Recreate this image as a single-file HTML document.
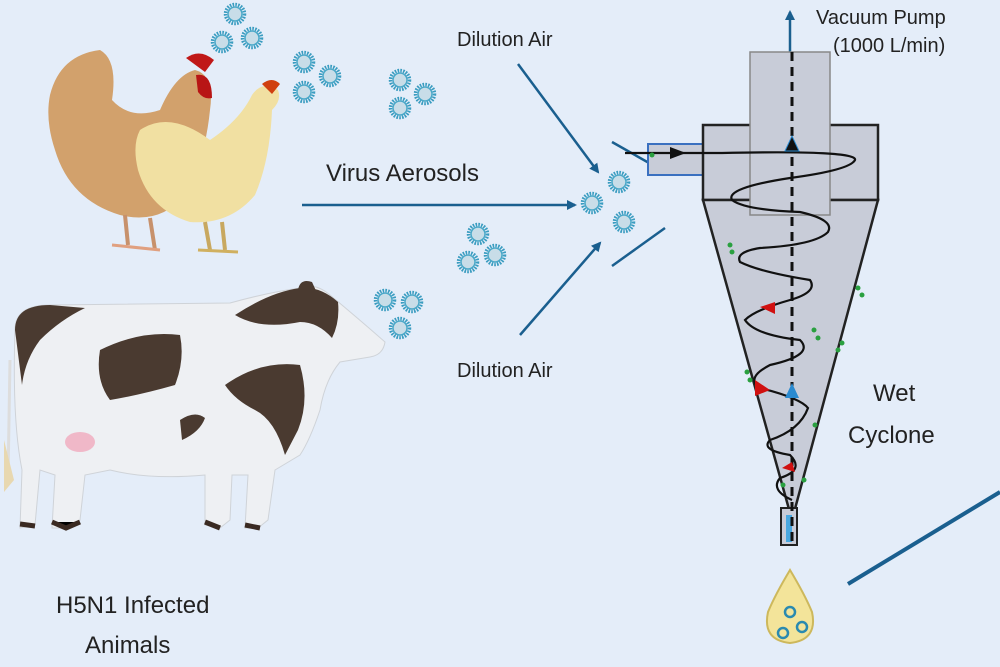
<!DOCTYPE html>
<html><head><style>
html,body{margin:0;padding:0;background:#e4edf9;}
svg{display:block;}
text{font-family:"Liberation Sans",sans-serif;fill:#222;}
</style></head><body>
<svg width="1000" height="667" viewBox="0 0 1000 667" xmlns="http://www.w3.org/2000/svg">
<defs>
<symbol id="v" viewBox="-12 -12 24 24" overflow="visible">
<circle r="9.5" fill="none" stroke="#3a9cc0" stroke-width="3.5" stroke-dasharray="1.6 1.2"/>
<circle r="7" fill="#c8dde8" stroke="#4aa8c8" stroke-width="1.5"/>
</symbol>
<marker id="ab" markerWidth="10" markerHeight="10" refX="8" refY="5" orient="auto" markerUnits="userSpaceOnUse"><path d="M0,0 L10,5 L0,10 Z" fill="#1a5f8f"/></marker>
</defs>
<rect width="1000" height="667" fill="#e4edf9"/>

<!-- chickens -->
<g>
<path d="M50,95 Q60,55 100,50 Q118,60 112,100 Q130,120 160,110 Q175,75 195,70 Q215,75 210,110 Q205,160 185,195 Q160,225 120,215 Q70,200 55,150 Q45,120 50,95Z" fill="#d2a16c"/>
<path d="M125,215 L128,245 M150,218 L155,250" stroke="#c7916c" stroke-width="4"/>
<path d="M112,245 L160,250" stroke="#e0a080" stroke-width="3"/>
<path d="M186,58 Q200,48 214,60 L205,72 Z" fill="#c01818"/>
<path d="M196,75 Q212,72 212,98 Q204,100 198,92Z" fill="#b81515"/>
<path d="M140,130 Q170,110 210,140 Q240,120 252,95 Q262,80 278,90 Q282,100 272,110 Q270,160 255,195 Q230,225 190,222 Q150,210 138,170 Q132,145 140,130Z" fill="#f1e0a2"/>
<path d="M262,84 Q272,76 280,84 L272,94Z" fill="#d04010"/>
<path d="M205,222 L210,250 M222,222 L225,250" stroke="#c8a860" stroke-width="4"/>
<path d="M198,250 L238,252" stroke="#d0b060" stroke-width="3"/>
</g>

<!-- cow -->
<g>
<path d="M15,330 Q15,305 50,305 L230,303 Q270,292 300,288 Q315,282 330,295 Q360,320 385,342 Q383,355 370,357 L340,362 Q325,380 320,410 Q310,440 300,455 L275,470 L268,520 L258,528 L245,528 L248,475 L232,475 L230,520 L220,528 L205,525 L205,475 Q150,480 110,470 L85,475 L80,520 L65,528 L52,528 L55,475 L40,470 L35,525 L20,528 L22,470 Q12,420 15,330Z" fill="#eef0f3" stroke="#cfd3d8" stroke-width="1"/>
<path d="M15,330 Q15,305 50,305 L85,308 Q60,320 40,340 Q25,360 22,385Z" fill="#4a3a30"/>
<path d="M235,315 Q270,292 300,288 Q320,286 338,302 Q340,322 332,338 Q318,322 300,322 Q260,330 235,315Z" fill="#4a3a30"/>
<path d="M100,350 Q140,330 180,335 Q185,360 175,385 Q140,395 110,400 Q95,380 100,350Z" fill="#4a3a30"/>
<path d="M225,385 Q260,360 300,365 Q310,400 298,430 L285,455 Q275,420 255,410 Q235,400 225,385Z" fill="#4a3a30"/>
<path d="M180,420 Q195,410 205,418 Q200,432 182,440Z" fill="#4a3a30"/>
<path d="M298,290 Q300,278 312,282 L318,295Z" fill="#4a3a30"/>
<path d="M52,522 L66,528 L80,522 M20,524 L35,526 M205,522 L220,528 M245,525 L260,528" stroke="#3a2a22" stroke-width="5"/>
<ellipse cx="80" cy="442" rx="15" ry="10" fill="#f0b8c8"/>
<path d="M10,360 L8,480" stroke="#ddd" stroke-width="3"/>
<path d="M4,440 L14,480 L4,492Z" fill="#e8d8b0"/>
</g>

<!-- viruses -->
<use href="#v" x="223" y="2" width="24" height="24"/>
<use href="#v" x="210" y="30" width="24" height="24"/>
<use href="#v" x="240" y="26" width="24" height="24"/>
<use href="#v" x="292" y="50" width="24" height="24"/>
<use href="#v" x="318" y="64" width="24" height="24"/>
<use href="#v" x="292" y="80" width="24" height="24"/>
<use href="#v" x="388" y="68" width="24" height="24"/>
<use href="#v" x="413" y="82" width="24" height="24"/>
<use href="#v" x="388" y="96" width="24" height="24"/>
<use href="#v" x="466" y="222" width="24" height="24"/>
<use href="#v" x="483" y="243" width="24" height="24"/>
<use href="#v" x="456" y="250" width="24" height="24"/>
<use href="#v" x="373" y="288" width="24" height="24"/>
<use href="#v" x="400" y="290" width="24" height="24"/>
<use href="#v" x="388" y="316" width="24" height="24"/>

<!-- arrows -->
<line x1="302" y1="205" x2="575" y2="205" stroke="#1a5f8f" stroke-width="2.5" marker-end="url(#ab)"/>
<line x1="518" y1="64" x2="598" y2="172" stroke="#1a5f8f" stroke-width="2.5" marker-end="url(#ab)"/>
<line x1="520" y1="335" x2="600" y2="243" stroke="#1a5f8f" stroke-width="2.5" marker-end="url(#ab)"/>
<line x1="612" y1="142" x2="665" y2="172" stroke="#1a5f8f" stroke-width="2.5"/>
<line x1="612" y1="266" x2="665" y2="228" stroke="#1a5f8f" stroke-width="2.5"/>
<line x1="790" y1="52" x2="790" y2="12" stroke="#1a5f8f" stroke-width="2.5" marker-end="url(#ab)"/>
<line x1="848" y1="584" x2="1000" y2="492" stroke="#1a5f8f" stroke-width="4"/>

<!-- cyclone -->
<path d="M713,160 L713,151 L750,151 M830,151 L872,151 L872,160" fill="none" stroke="#1a70b0" stroke-width="2.5"/>
<rect x="648" y="144" width="57" height="31" fill="#c8ccd8" stroke="#3a70c0" stroke-width="2"/>
<rect x="703" y="125" width="175" height="75" fill="#c8ccd8" stroke="#222" stroke-width="2.5"/>
<path d="M703,200 L878,200 L792,520 Z" fill="#c8ccd8" stroke="#222" stroke-width="2.5"/>
<rect x="750" y="52" width="80" height="163" fill="#c8ccd8" stroke="#888" stroke-width="1.5"/>
<rect x="781" y="508" width="16" height="37" fill="#c8ccd8" stroke="#222" stroke-width="2"/>
<rect x="786" y="515" width="6" height="27" fill="#4aa8e0"/>
<line x1="792" y1="52" x2="792" y2="545" stroke="#111" stroke-width="3" stroke-dasharray="9 6"/>
<path d="M625,153 L722,153 Q858,150 855,160 Q850,170 790,178 Q725,188 732,200 Q745,210 800,212 Q835,220 828,232 Q815,245 760,248 Q735,252 740,262 Q760,272 810,280 Q818,292 790,300 Q755,310 745,320 Q755,335 800,340 Q815,355 770,365 Q745,378 760,388 Q800,398 808,408 Q800,430 770,440 Q760,450 790,455 Q805,470 780,478 Q770,490 792,500" fill="none" stroke="#111" stroke-width="2.2"/>
<path d="M670,147 L686,153 L670,159Z" fill="#111"/>
<path d="M785,151 L792,136 L799,151Z" fill="#111" stroke="#2a8ad0"/>
<path d="M785,398 L792,383 L799,398Z" fill="#2a8ad0"/>
<path d="M775,302 L760,307 L775,314Z" fill="#d01010"/>
<path d="M755,380 L770,390 L755,396Z" fill="#d01010"/>
<path d="M782,468 L792,462 L795,472Z" fill="#d01010"/>
<g fill="#2aa040">
<circle cx="858" cy="288" r="2.5"/><circle cx="862" cy="295" r="2.5"/>
<circle cx="730" cy="245" r="2.5"/><circle cx="732" cy="252" r="2.5"/>
<circle cx="838" cy="350" r="2.5"/><circle cx="842" cy="343" r="2.5"/>
<circle cx="747" cy="372" r="2.5"/><circle cx="750" cy="380" r="2.5"/>
<circle cx="814" cy="330" r="2.5"/><circle cx="818" cy="338" r="2.5"/>
<circle cx="815" cy="425" r="2.5"/><circle cx="804" cy="480" r="2.5"/><circle cx="783" cy="485" r="2.5"/>
<circle cx="652" cy="155" r="2.5"/>
</g>
<use href="#v" x="607" y="170" width="24" height="24"/>
<use href="#v" x="580" y="191" width="24" height="24"/>
<use href="#v" x="612" y="210" width="24" height="24"/>

<!-- drop -->
<path d="M790,570 Q775,595 768,612 Q762,640 790,643 Q818,640 812,612 Q805,595 790,570Z" fill="#f3e49a" stroke="#cdb85c" stroke-width="2"/>
<circle cx="790" cy="612" r="5" fill="none" stroke="#2a8ab0" stroke-width="2.5"/>
<circle cx="802" cy="627" r="5" fill="none" stroke="#2a8ab0" stroke-width="2.5"/>
<circle cx="783" cy="633" r="5" fill="none" stroke="#2a8ab0" stroke-width="2.5"/>

<!-- labels -->
<text x="326" y="181" font-size="24">Virus Aerosols</text>
<text x="457" y="46" font-size="20">Dilution Air</text>
<text x="457" y="377" font-size="20">Dilution Air</text>
<text x="816" y="24" font-size="20">Vacuum Pump</text>
<text x="833" y="52" font-size="20">(1000 L/min)</text>
<text x="873" y="401" font-size="24">Wet</text>
<text x="848" y="443" font-size="24">Cyclone</text>
<text x="56" y="613" font-size="24">H5N1 Infected</text>
<text x="85" y="653" font-size="24">Animals</text>
</svg>
</body></html>
